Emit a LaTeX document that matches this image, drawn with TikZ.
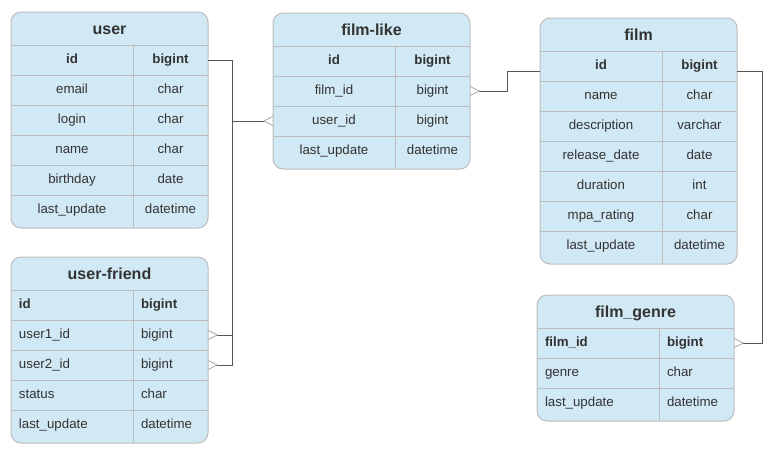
\documentclass[tikz,border=0pt]{standalone}
\usepackage{fontspec}
\setmainfont{Liberation Sans}
\usepackage{tikz}
\usetikzlibrary{calc,positioning}

\definecolor{tablefill}{HTML}{D1E8F5}
\definecolor{tableline}{HTML}{BDBDBD}
\definecolor{textgray}{HTML}{333333}
\definecolor{linkgray}{HTML}{555555}
\definecolor{footgray}{HTML}{A6A6A6}

\tikzset{
  tablebox/.style={draw=tableline, fill=tablefill, line width=1pt, rounded corners=10pt},
  rowline/.style={draw=tableline, line width=1pt},
  cellbase/.style={inner ysep=0pt, minimum height=30pt, text height=9.5pt, text depth=2.8pt,
    text=textgray, font=\fontsize{13.3pt}{16pt}\selectfont},
  titlecell/.style={cellbase, inner xsep=0pt, minimum width=197pt, minimum height=33pt,
    text height=11.5pt, text depth=3.4pt, font=\fontsize{16pt}{19pt}\selectfont\bfseries},
  ctr name/.style={cellbase, inner xsep=0pt, minimum width=122pt},
  ctr type/.style={cellbase, inner xsep=0pt, minimum width=75pt},
  left name/.style={cellbase, inner xsep=8pt, text width=106pt, align=left},
  left type/.style={cellbase, inner xsep=8pt, text width=59pt, align=left},
  link/.style={draw=linkgray, line width=1pt},
  crowfoot/.style={draw=footgray, line width=0.8pt},
}

% table: name, left, top, rows, title, fields, alignment
\newcommand{\dbtable}[7]{%
  \pgfmathsetmacro{\tbot}{#3+36+30*#4}
  \filldraw[tablebox] (#2,#3) rectangle (#2+197,\tbot);
  \draw[rowline] (#2+122,#3+33) -- (#2+122,\tbot);
  \node[titlecell] (#1) at (#2+98.5,#3+18) {#5};
  \foreach \fname/\ftype [count=\i] in {#6} {
    \draw[rowline] (#2,#3+3+30*\i) -- (#2+197,#3+3+30*\i);
    \node[#7 name] (#1-\i) at (#2+61,#3+18+30*\i) {\fname};
    \node[#7 type] (#1-\i-t) at (#2+159.5,#3+18+30*\i) {\ftype};
  }
}

% many-end of a relation
\newcommand{\manyend}[2]{%
  \draw[crowfoot] ([yshift=4.5pt]#1) -- ([xshift=#2pt]#1) -- ([yshift=-4.5pt]#1);
}

\begin{document}
\begin{tikzpicture}[x=1pt, y=-1pt]
    \fill[white] (0,0) rectangle (777,456);
    \useasboundingbox (0,0) rectangle (777,456);

    % Tables
    \dbtable{user}{11}{12}{6}{user}{\textbf{id}/\textbf{bigint}, email/char, login/char,
      name/char, birthday/date, last\_update/datetime}{ctr}
    \dbtable{friend}{11}{257}{5}{user-friend}{\textbf{id}/\textbf{bigint}, user1\_id/bigint,
      user2\_id/bigint, status/char, last\_update/datetime}{left}
    \dbtable{like}{273}{13}{4}{film-like}{\textbf{id}/\textbf{bigint}, film\_id/bigint,
      user\_id/bigint, last\_update/datetime}{ctr}
    \dbtable{film}{540}{18}{7}{film}{\textbf{id}/\textbf{bigint}, name/char,
      description/varchar, release\_date/date, duration/int, mpa\_rating/char,
      last\_update/datetime}{ctr}
    \dbtable{genre}{537}{295}{3}{film\_genre}{\textbf{film\_id}/\textbf{bigint},
      genre/char, last\_update/datetime}{left}

    % user id to friends and likes
    \coordinate (utrunk) at (232,0);
    \draw[link] (user-1-t.east) -| (utrunk |- friend-3-t.east) -- ([xshift=9pt]friend-3-t.east);
    \draw[link] (utrunk |- friend-2-t.east) -- ([xshift=9pt]friend-2-t.east);
    \draw[link] (utrunk |- like-3.west) -- ([xshift=-9pt]like-3.west);
    \manyend{friend-2-t.east}{9}
    \manyend{friend-3-t.east}{9}
    \manyend{like-3.west}{-9}

    % film id to likes
    \coordinate (ltrunk) at (507,0);
    \draw[link] ([xshift=9pt]like-2-t.east) -- (like-2-t.east -| ltrunk) |- ([yshift=-5pt]film-1.west);
    \manyend{like-2-t.east}{9}

    % film id to genres
    \coordinate (gtrunk) at (762,0);
    \draw[link] ([yshift=-5pt]film-1-t.east) -| (gtrunk |- genre-1-t.east) -- ([xshift=9pt]genre-1-t.east);
    \manyend{genre-1-t.east}{9}
\end{tikzpicture}
\end{document}
